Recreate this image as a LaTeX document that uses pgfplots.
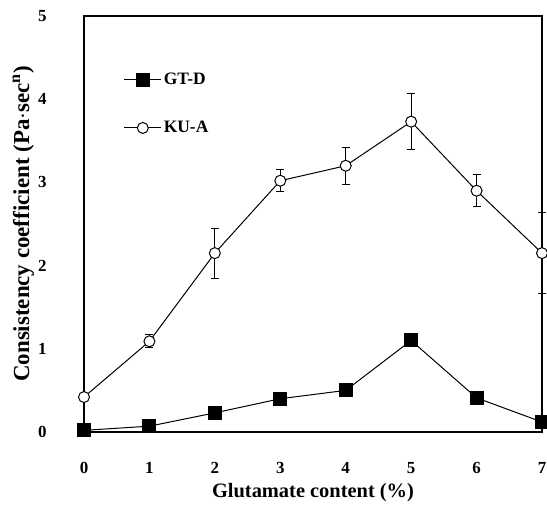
\documentclass[border=0pt]{standalone}
\usepackage{fontspec}
\setmainfont{Liberation Serif}
\usepackage{pgfplots}
\pgfplotsset{compat=1.18}

\pgfplotstableread{
x y
0 0.02
1 0.07
2 0.23
3 0.40
4 0.50
5 1.10
6 0.41
7 0.12
}\gtd

\pgfplotstableread{
x y e
0 0.42 0
1 1.09 0.08
2 2.15 0.30
3 3.02 0.13
4 3.20 0.22
5 3.73 0.34
6 2.90 0.19
7 2.15 0.49
}\kua

\begin{document}
\begin{tikzpicture}[x=1bp,y=1bp]
\useasboundingbox (-84,-74) rectangle (463,432);
\begin{axis}[
    scale only axis,
    width=458bp, height=416bp,
    xmin=0, xmax=7, ymin=0, ymax=5,
    xtick={0,...,7}, ytick={0,...,5},
    major tick length=0pt,
    axis line style={line width=2pt},
    clip=false,
    font=\fontsize{17}{19}\selectfont\bfseries,
    /pgf/number format/assume math mode=true,
    xticklabel style={yshift=-27bp},
    yticklabel style={xshift=-34bp},
    xlabel={Glutamate content (\%)},
    ylabel={Consistency coefficient (Pa$\cdot$sec$^{\mathbf{n}}$)},
    xlabel style={font=\fontsize{20.5}{22}\selectfont\bfseries, yshift=-3bp},
    ylabel style={font=\fontsize{23}{25}\selectfont\bfseries, yshift=-3bp},
    legend style={draw=none, fill=none, at={(0.08,0.872)}, anchor=north west,
      row sep=31bp, font=\fontsize{17.5}{19}\selectfont\bfseries},
    legend cell align=left,
    legend image code/.code={
      \draw[#1] (0bp,0bp) -- (37bp,0bp);
      \draw[#1, only marks] plot coordinates {(18.5bp,0bp)};
    },
]
\addplot[black, line width=1pt, mark=square*, mark size=6.5bp, mark options={solid}]
  table[x=x,y=y] {\gtd};
\addlegendentry{GT-D}
\addplot[black, line width=1pt, mark=*, mark size=5.5bp,
  mark options={fill=white, line width=1pt},
  error bars/.cd, y dir=both, y explicit,
  error bar style={line width=1pt}, error mark options={rotate=90, mark size=4bp, line width=1pt}]
  table[x=x,y=y,y error=e] {\kua};
\addlegendentry{KU-A}
\end{axis}
\end{tikzpicture}
\end{document}
